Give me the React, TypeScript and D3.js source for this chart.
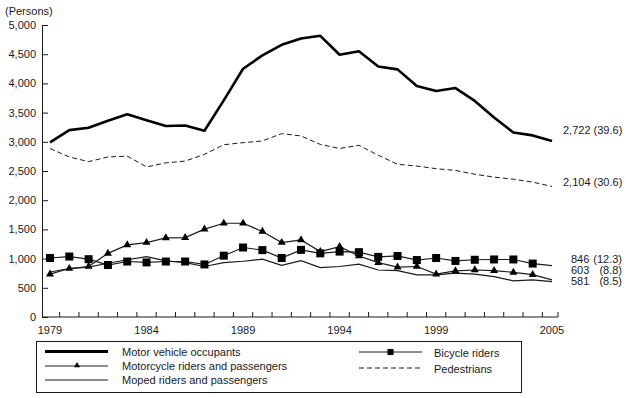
import { useEffect, useRef } from "react";
import { axisLeft, line, scaleLinear, scalePoint, select, symbol, symbolTriangle } from "d3";

const years = [
    1979, 1980, 1981, 1982, 1983, 1984, 1985, 1986, 1987, 1988, 1989, 1990, 1991, 1992,
    1993, 1994, 1995, 1996, 1997, 1998, 1999, 2000, 2001, 2002, 2003, 2004, 2005
];
const yearLabels = [1979, 1984, 1989, 1994, 1999, 2005];

const motorVehicle = [
    2990, 3200, 3240, 3360, 3470, 3370, 3270, 3280, 3190, 3710, 4250, 4480, 4660, 4770,
    4815, 4490, 4550, 4290, 4240, 3955, 3870, 3920, 3700, 3415, 3160, 3110, 3015
];
const pedestrians = [
    2885, 2740, 2660, 2740, 2755, 2570, 2640, 2670, 2785, 2950, 2985, 3015, 3140, 3100,
    2955, 2885, 2940, 2770, 2615, 2585, 2540, 2510, 2445, 2395, 2360, 2310, 2235
];
const bicycle = [
    1010, 1035, 990, 890, 950, 935, 950, 950, 900, 1050, 1190, 1145, 1010, 1150,
    1090, 1120, 1110, 1030, 1045, 975, 1010, 960, 980, 985, 985, 915, 880
];
const motorcycle = [
    735, 830, 865, 1090, 1235, 1275, 1355, 1360, 1505, 1605, 1605, 1465, 1275, 1320,
    1120, 1205, 1045, 930, 855, 865, 735, 790, 805, 795, 765, 725, 635
];
const moped = [
    770, 830, 855, 920, 980, 1035, 960, 930, 865, 930, 955, 990, 885, 965,
    845, 865, 905, 805, 795, 720, 720, 750, 735, 690, 620, 635, 605
];

const endLabels = [
    { value: "2,722 (39.6)", y: 130 },
    { value: "2,104 (30.6)", y: 182 }
];
const smallLabels = [
    { value: "846", pct: "(12.3)", y: 259 },
    { value: "603", pct: "(8.8)", y: 270 },
    { value: "581", pct: "(8.5)", y: 281 }
];

const font = "'Liberation Sans', Arial, sans-serif";
const ink = "#1a1a1a";

function AxisLeft({ scale, x }: { scale: any; x: number }) {
    const ref = useRef<SVGGElement>(null);
    useEffect(() => {
        if (ref.current) {
            const g = select(ref.current);
            g.call(
                axisLeft(scale)
                    .tickValues([0, 500, 1000, 1500, 2000, 2500, 3000, 3500, 4000, 4500, 5000])
                    .tickFormat((d: any) => (d === 0 ? "0" : d.toLocaleString("en-US")))
                    .tickSizeInner(-6)
                    .tickSizeOuter(0)
                    .tickPadding(6)
            );
            g.selectAll("text").attr("font-size", 11).attr("font-family", font).attr("fill", ink);
            g.selectAll("line").attr("stroke", ink);
            g.select(".domain").attr("stroke", ink);
        }
    }, [scale]);
    return <g ref={ref} transform={`translate(${x},0)`} />;
}

export default function App() {
    const axisX0 = 42;
    const axisX1 = 558;
    const x = scalePoint<number>().domain(years).range([50, 552]);
    const y = scaleLinear().domain([0, 5000]).range([317, 25]);
    const baseY = y(0);

    const path = (vals: number[]) =>
        line<number>()
            .x((_, i) => x(years[i]) as number)
            .y((d) => y(d))(vals) as string;

    // ticks sit between the years, plus one closing the axis
    const tickXs = years.slice(0, -1).map((yr, i) => ((x(yr) as number) + (x(years[i + 1]) as number)) / 2);
    tickXs.push(axisX1);

    const tri = symbol().type(symbolTriangle).size(28)() as string;
    const triSmall = symbol().type(symbolTriangle).size(16)() as string;

    return (
        <svg
            width={626}
            height={398}
            style={{ position: "absolute", left: 0, top: 0, background: "#fff" }}
            fontFamily={font}
        >
            <text x={5} y={15} fontSize={11} fill={ink}>(Persons)</text>
            <AxisLeft scale={y} x={axisX0} />
            <line x1={axisX0} x2={axisX1} y1={baseY} y2={baseY} stroke={ink} />
            {tickXs.map((tx, i) => (
                <line key={`t${i}`} x1={tx} x2={tx} y1={baseY} y2={baseY - 5} stroke={ink} />
            ))}
            {yearLabels.map((yr) => (
                <text key={yr} x={x(yr)} y={329.5} fontSize={11} textAnchor="middle" dominantBaseline="central" fill={ink}>
                    {yr}
                </text>
            ))}

            <path d={path(moped)} fill="none" stroke={ink} strokeWidth={1.2} />
            <path d={path(bicycle)} fill="none" stroke={ink} strokeWidth={1.2} />
            {bicycle.slice(0, -1).map((v, i) => (
                <rect key={`b${i}`} x={(x(years[i]) as number) - 4} y={y(v) - 4} width={8} height={8} fill="#000" />
            ))}
            <path d={path(motorcycle)} fill="none" stroke={ink} strokeWidth={1.2} />
            {motorcycle.slice(0, -1).map((v, i) => (
                <path key={`m${i}`} d={tri} transform={`translate(${x(years[i])},${y(v)})`} fill="#000" />
            ))}
            <path d={path(pedestrians)} fill="none" stroke={ink} strokeWidth={1} strokeDasharray="5,3" />
            <path d={path(motorVehicle)} fill="none" stroke="#000" strokeWidth={2.6} strokeLinejoin="round" />

            {endLabels.map((l) => (
                <text key={l.value} x={563} y={l.y} fontSize={11} dominantBaseline="central" fill={ink}>
                    {l.value}
                </text>
            ))}
            {smallLabels.map((l) => (
                <g key={l.value}>
                    <text x={571} y={l.y} fontSize={11} dominantBaseline="central" fill={ink}>{l.value}</text>
                    <text x={622} y={l.y} fontSize={11} textAnchor="end" dominantBaseline="central" fill={ink}>{l.pct}</text>
                </g>
            ))}

            <rect x={36.5} y={341.5} width={485} height={51} fill="none" stroke={ink} />
            <line x1={45} x2={108} y1={351.5} y2={351.5} stroke="#000" strokeWidth={3} />
            <text x={122} y={351.5} fontSize={11} dominantBaseline="central" fill={ink}>Motor vehicle occupants</text>
            <line x1={45} x2={108} y1={366} y2={366} stroke={ink} strokeWidth={1} />
            <path d={triSmall} transform="translate(77,365.5)" fill="#000" />
            <text x={122} y={366} fontSize={11} dominantBaseline="central" fill={ink}>Motorcycle riders and passengers</text>
            <line x1={45} x2={108} y1={380} y2={380} stroke={ink} strokeWidth={1} />
            <text x={122} y={380} fontSize={11} dominantBaseline="central" fill={ink}>Moped riders and passengers</text>
            <line x1={359} x2={422} y1={352} y2={352} stroke={ink} strokeWidth={1} />
            <rect x={387.5} y={349} width={6} height={6} fill="#000" />
            <text x={434} y={353} fontSize={11} dominantBaseline="central" fill={ink}>Bicycle riders</text>
            <line x1={359} x2={422} y1={368} y2={368} stroke={ink} strokeWidth={1} strokeDasharray="5,3" />
            <text x={434} y={369} fontSize={11} dominantBaseline="central" fill={ink}>Pedestrians</text>
        </svg>
    );
}
